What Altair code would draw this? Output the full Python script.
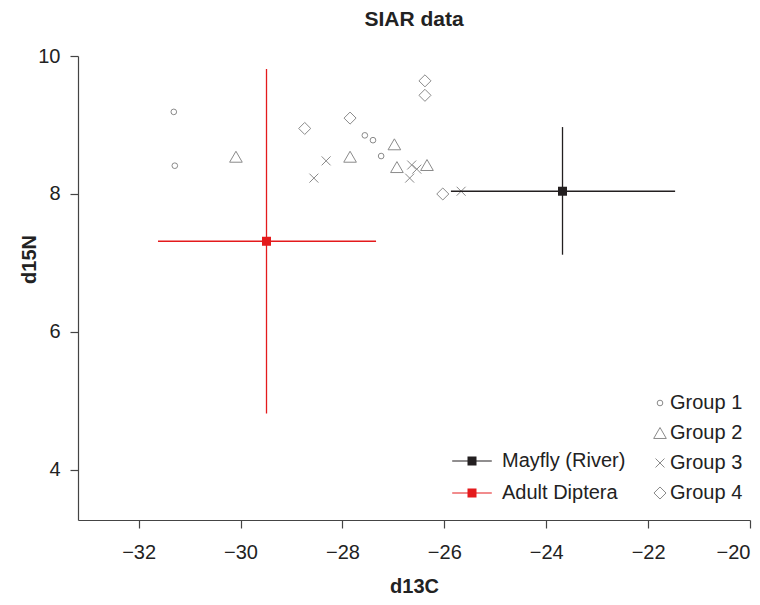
import altair as alt
import pandas as pd

# ---- data ----
groups = ["Group 1", "Group 2", "Group 3", "Group 4"]
g1_x = [-31.31, -31.29, -27.56, -27.40, -27.24]
g1_y = [9.19, 8.41, 8.85, 8.78, 8.55]
g2_x = [-30.09, -27.85, -26.98, -26.93, -26.34]
g2_y = [8.54, 8.54, 8.72, 8.39, 8.42]
g3_x = [-28.32, -28.56, -26.64, -26.54, -26.68, -25.67]
g3_y = [8.48, 8.23, 8.42, 8.36, 8.23, 8.04]
g4_x = [-26.38, -26.38, -27.85, -28.74, -26.03]
g4_y = [9.64, 9.43, 9.10, 8.95, 8.00]

sources = ["Mayfly (River)", "Adult Diptera"]
src_x = [-23.68, -29.49]
src_y = [8.04, 7.315]
src_xlo = [-25.87, -31.62]
src_xhi = [-21.47, -27.34]
src_ylo = [7.12, 4.82]
src_yhi = [8.97, 9.81]

x_ticks = [-32, -30, -28, -26, -24, -22, -20]
y_ticks = [4, 6, 8, 10]

# ---- tables ----
rows = []
for g, xs, ys in zip(groups, [g1_x, g2_x, g3_x, g4_x], [g1_y, g2_y, g3_y, g4_y]):
    for a, b in zip(xs, ys):
        rows.append({"group": g, "d13C": a, "d15N": b})
df_pts = pd.DataFrame(rows)
df_src = pd.DataFrame({"source": sources, "x": src_x, "y": src_y,
                       "xlo": src_xlo, "xhi": src_xhi, "ylo": src_ylo, "yhi": src_yhi})

FONT = "Liberation Sans"
xscale = alt.Scale(domain=[-33.19, -20], nice=False, zero=False)
yscale = alt.Scale(domain=[3.275, 10], nice=False, zero=False)
xaxis = alt.Axis(values=x_ticks, title="d13C", titleY=72, titleBaseline="alphabetic",
                 titleFontSize=20, titleFontWeight="bold", labelPadding=14, format="d",
                 labelFlush=True)
yaxis = alt.Axis(values=y_ticks, title="d15N", titleX=-43, titleY=203, titleAlign="center",
                 titleBaseline="alphabetic", titleAngle=270,
                 titleFontSize=20, titleFontWeight="bold", labelPadding=10, format="d",
                 labelFlush=False)

shapes = ["circle", "triangle-up", "M-1,-1L1,1M-1,1L1,-1", "diamond"]
sizes = [32, 160, 80, 145]
grp_legend = alt.Legend(title=None, orient="none", legendX=572, legendY=337,
                        rowPadding=10, labelOffset=0, symbolStrokeColor="#8a8a8a",
                        symbolStrokeWidth=1, symbolFillColor="transparent")

pts = alt.Chart(df_pts).mark_point(filled=False, strokeWidth=1, color="#8a8a8a", opacity=1).encode(
    x=alt.X("d13C:Q", scale=xscale, axis=xaxis),
    y=alt.Y("d15N:Q", scale=yscale, axis=yaxis),
    shape=alt.Shape("group:O", scale=alt.Scale(type="ordinal", domain=groups, range=shapes),
                    legend=grp_legend),
    size=alt.Size("group:O", scale=alt.Scale(type="ordinal", domain=groups, range=sizes),
                  legend=grp_legend),
)

src_scale = alt.Scale(domain=sources, range=["#231f20", "#e41a1c"])
src_legend = alt.Legend(title=None, orient="none", legendX=384, legendY=395,
                        symbolType="M-4.4,-0.13H4.4V0.13H-4.4Z M-1,-1H1V1H-1Z",
                        symbolSize=81, symbolStrokeWidth=0, labelOffset=20, rowPadding=12)
src_color = alt.Color("source:N", scale=src_scale, legend=src_legend)

sq = alt.Chart(df_src).mark_square(size=81, opacity=1).encode(
    x=alt.X("x:Q", scale=xscale, axis=xaxis),
    y=alt.Y("y:Q", scale=yscale, axis=yaxis),
    color=src_color,
)
hrule = alt.Chart(df_src).mark_rule(strokeWidth=1.3).encode(
    x=alt.X("xlo:Q", scale=xscale, axis=xaxis), x2="xhi:Q",
    y=alt.Y("y:Q", scale=yscale, axis=yaxis),
    color=src_color,
)
vrule = alt.Chart(df_src).mark_rule(strokeWidth=1.3).encode(
    x=alt.X("x:Q", scale=xscale, axis=xaxis),
    y=alt.Y("ylo:Q", scale=yscale, axis=yaxis), y2="yhi:Q",
    color=src_color,
)

chart = alt.layer(sq, pts, hrule, vrule).properties(
    width=672, height=464,
    background="white",
    autosize=alt.AutoSizeParams(type="none"),
    padding={"left": 70, "top": 48, "right": 2, "bottom": 77},
    title=alt.TitleParams("SIAR data", fontSize=21, fontWeight="bold", font=FONT,
                          color="#222", anchor="middle", offset=16),
).configure_view(stroke=None).configure_axis(
    grid=False, domainColor="#444", tickColor="#444", domainWidth=1.2, tickWidth=1.2,
    tickSize=8, labelFont=FONT, labelFontSize=20, labelColor="#222",
    titleFont=FONT, titleColor="#222",
).configure_legend(
    labelFont=FONT, labelFontSize=20, labelColor="#222", padding=0,
)

chart.save("out.html", embed_options={"renderer": "svg", "actions": False})
